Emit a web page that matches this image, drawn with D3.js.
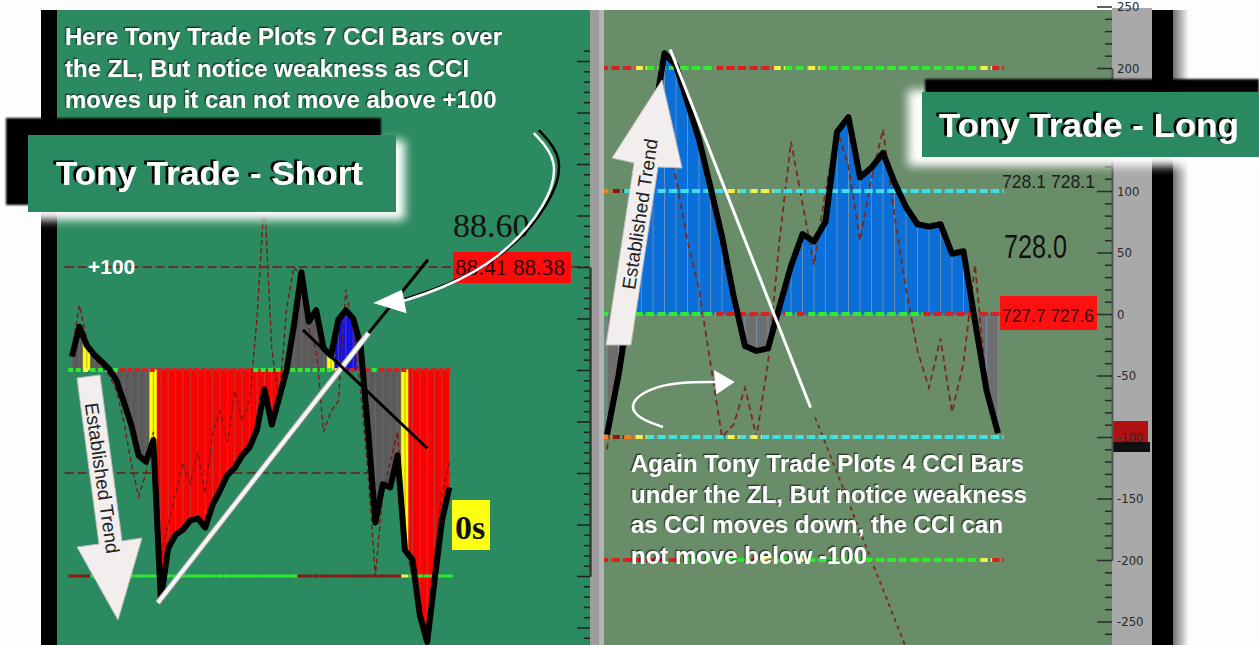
<!DOCTYPE html>
<html><head><meta charset="utf-8">
<script src="https://cdn.jsdelivr.net/npm/d3@7"></script>
<style>html,body{margin:0;padding:0;background:#fff;overflow:hidden}</style>
</head><body><svg id="c" width="1259" height="645" font-family="Liberation Sans, Arial, sans-serif"></svg>
<script>
// ---------------- DATA ----------------
// Left chart (Tony Trade - Short): CCI histogram values per bar
const leftCCI = [13,42,24,15,8,1,-10,-31,-53,-83,-89,-68,-223,-173,-160,-155,-146,-144,-153,-131,-117,-102,-95,-83,-75,-58,-19,-53,-27,0,44,95,47,58,21,14,49,58,50,24,-58,-148,-111,-114,-83,-175,-184,-238,-264,-204,-146,-114];
const leftTurbo = [20,63,30,10,5,-5,-20,-50,-90,-123,-100,-60,-180,-150,-120,-90,-110,-80,-120,-60,-40,-70,-20,-50,-30,50,170,20,-30,60,100,90,40,20,-60,-40,-30,78,40,-20,-100,-200,-120,-90,-60,-170,-200,-240,-250,-180,-120,-90];
const leftBarColors = [["gray",2],["yellow",1],["gray",8],["yellow",1],["red",17],["gray",6],["yellow",1],["blue",3],["gray",6],["yellow",1],["red",6]];
const leftZLColors = [["g",2],["y",1],["g",4],["r",18],["g",11],["y",1],["r",4],["g",1],["r",10]];
const leftM200Colors = [["d",3],["g",28],["d",14],["y",1],["g",6]];
const leftTicksMajor = [300,250,200,150,100,50,0,-50,-100,-150,-200,-250];

// Right chart (Tony Trade - Long)
const rightCCI = [-98,-50,10,87,156,212,202,172,142,103,63,15,-26,-30,-28,6,39,65,59,75,148,160,111,119,131,107,87,73,71,73,49,51,-6,-62,-97];
const rightTurbo = [-110,-40,40,110,170,150,110,60,20,-40,-100,-90,-60,-100,-40,60,140,90,40,100,150,120,60,110,150,80,20,-30,-60,-20,-80,-40,40,-60,-100];
const rightBarColors = [["gray",2],["blue",10],["gray",3],["blue",17],["gray",3]];
const rightP200Colors = [["r",3],["y",1],["g",6],["r",5],["y",1],["g",2],["y",1],["g",14],["y",1],["r",1]];
const rightP100Colors = [["o",1],["d",1],["c",2],["c",7],["y",1],["c",1],["y",2],["c",20]];
const rightZLColors = [["g",10],["r",6],["g",1],["r",1],["g",10],["r",7]];
const rightM100Colors = [["o",1],["d",1],["o",1],["y",1],["c",7],["y",1],["c",1],["y",1],["c",21]];
const rightM200Colors = [["r",7],["g",6],["r",1],["y",1],["g",2],["y",1],["g",15],["y",1],["r",1]];
const rightTickValues = [250,200,150,100,50,0,-50,-100,-150,-200,-250];
const rightTickLabels = ["250","200","","100","50","0","-50","-100","-150","-200","-250"]; // 150 is hidden behind the title box

// Annotations in data units [barIndex, cciValue]
const leftTrendWhite = [[11.6,-226],[40.1,36]];
const leftTrendBlack = [[40.1,36],[48.1,107]];
const leftDownLine = [[31.2,39],[48,-76]];
const leftCurve = [[62.4,230],[65.9,204],[64.3,160],[57.8,107],[49.7,78],[44.3,66]];
const leftCurveHead = [[40.7,65],[44.6,78],[45.2,55]];
const rightTrendWhite = [[5.5,215],[17.7,-76]];
const rightCurve = [[4.87,-91.9],[2.43,-83.7],[2.0,-71.5],[3.74,-60.2],[6.35,-55.3],[9.48,-55.3]];
const rightCurveHead = [[11.1,-55.3],[9.3,-45.5],[9.5,-65.5]];
const rightLongDash = [[18.1,-84],[25.9,-269]];

// ---------------- HELPERS ----------------
const runs = r => r.flatMap(([c,n]) => Array(n).fill(c));
const lvlCol = {g:"#30ec30", r:"#dd1e1e", y:"#f2f24a", c:"#3fe0e6", o:"#ff7a12", d:"#8c1616"};

const svg = d3.select("#c");
const defs = svg.append("defs");
[["b1",1.2],["b3",3],["b5",5]].forEach(([id,s])=>{
  defs.append("filter").attr("id",id).attr("x","-20%").attr("y","-40%").attr("width","140%").attr("height","180%")
    .append("feGaussianBlur").attr("stdDeviation",s);
});
const sh1 = defs.append("filter").attr("id","shTitle").attr("x","-10%").attr("y","-30%").attr("width","120%").attr("height","160%");
sh1.append("feDropShadow").attr("dx",-3).attr("dy",-1.5).attr("stdDeviation",0.4).attr("flood-color","#000").attr("flood-opacity",1);
const sh2 = defs.append("filter").attr("id","shNote").attr("x","-10%").attr("y","-30%").attr("width","120%").attr("height","160%");
sh2.append("feDropShadow").attr("dx",-1.3).attr("dy",-1.3).attr("stdDeviation",0.4).attr("flood-color","#111").attr("flood-opacity",0.7);
const gr = defs.append("linearGradient").attr("id","shade").attr("x1",0).attr("x2",1);
gr.append("stop").attr("offset","0").attr("stop-color","#6f6f6f");
gr.append("stop").attr("offset","1").attr("stop-color","#ffffff");

defs.append("clipPath").attr("id","clipL").append("rect").attr("x",57).attr("y",10).attr("width",533).attr("height",635);
defs.append("clipPath").attr("id","clipR").append("rect").attr("x",604).attr("y",10).attr("width",508).attr("height",635);
defs.append("clipPath").attr("id","clipAx").append("rect").attr("x",1080).attr("y",8).attr("width",80).attr("height",637);

// ---------------- FRAMES ----------------
svg.append("rect").attr("width",1259).attr("height",645).attr("fill","#fdfdfd");
svg.append("rect").attr("x",41).attr("y",10).attr("width",17).attr("height",635).attr("fill","#000");
svg.append("rect").attr("x",57).attr("y",10).attr("width",533).attr("height",635).attr("fill","#2c8a60");
svg.append("rect").attr("x",590).attr("y",10).attr("width",9).attr("height",635).attr("fill","#9d9d9d");
svg.append("rect").attr("x",599).attr("y",10).attr("width",5).attr("height",635).attr("fill","#b4b4b4");
svg.append("rect").attr("x",604).attr("y",10).attr("width",508).attr("height",635).attr("fill","#698c69");
svg.append("rect").attr("x",1112).attr("y",8).attr("width",40).attr("height",637).attr("fill","#a9a9a9");
svg.append("rect").attr("x",1173).attr("y",10).attr("width",16).attr("height",635).attr("fill","url(#shade)");
svg.append("rect").attr("x",1152).attr("y",10).attr("width",21).attr("height",635).attr("fill","#000");

// ---------------- SCALES ----------------
const xL = d3.scaleLinear().domain([0,51]).range([72,449.4]);
const yL = d3.scaleLinear().domain([-200,100]).range([576,267]);
const xR = d3.scaleLinear().domain([0,34]).range([607,998]);
const yR = d3.scaleLinear().domain([-200,200]).range([560,68]);

function histogram(g, data, colors, x, y, palette, sep){
  const n = data.length;
  const area = d3.area().x(d=>x(d[0])).y0(y(0)).y1(d=>y(d[1]));
  data.forEach((v,i)=>{
    const pts = [];
    pts.push(i>0 ? [i-0.5,(data[i-1]+v)/2] : [i,v]);
    pts.push([i,v]);
    pts.push(i<n-1 ? [i+0.5,(v+data[i+1])/2] : [i,v]);
    g.append("path").attr("d",area(pts)).attr("fill",palette[colors[i]]).attr("stroke",palette[colors[i]]).attr("stroke-width",0.6);
  });
  g.selectAll(null).data(data).enter().append("line")
    .attr("x1",(d,i)=>x(i)).attr("x2",(d,i)=>x(i)).attr("y1",y(0)).attr("y2",d=>y(d))
    .attr("stroke",sep).attr("stroke-width",1);
}
function levelLine(g, runsArr, level, x, y, dash, w){
  const cols = runs(runsArr);
  cols.forEach((c,i)=>{
    g.append("line").attr("x1",x(i-0.5)).attr("x2",x(i+0.5)).attr("y1",y(level)).attr("y2",y(level))
      .attr("stroke",lvlCol[c]).attr("stroke-width",w).attr("stroke-dasharray",dash);
  });
}

// ---------------- LEFT PANEL ----------------
const gL = svg.append("g").attr("clip-path","url(#clipL)");
[100,-100].forEach(l=>{
  gL.append("line").attr("x1",xL(-1)).attr("x2", l===100? 588 : xL(51.5)).attr("y1",yL(l)).attr("y2",yL(l))
    .attr("stroke","#6a1a16").attr("stroke-width",1.6).attr("stroke-dasharray","9,4");
});
histogram(gL, leftCCI, runs(leftBarColors), xL, yL, {gray:"#5b5b5b",red:"#ff0000",yellow:"#ffff00",blue:"#1212e8"}, "rgba(130,110,110,0.55)");
gL.append("path").datum(leftTurbo).attr("fill","none").attr("stroke","#7c1a14").attr("stroke-width",1.4)
  .attr("stroke-dasharray","5,3").attr("d",d3.line().x((d,i)=>xL(i)).y(d=>yL(d)));
levelLine(gL, leftZLColors, 0, xL, yL, "5,3", 4);
levelLine(gL, leftM200Colors, -200, xL, yL, "7,2", 3);
gL.append("path").datum(leftCCI).attr("fill","none").attr("stroke","#000").attr("stroke-width",6)
  .attr("stroke-linejoin","round").attr("d",d3.line().x((d,i)=>xL(i)).y(d=>yL(d)));

// left axis
const gAxL = svg.append("g").attr("transform","translate(590,0)");
gAxL.call(d3.axisRight(yL).tickValues(d3.range(-270,320,10).filter(v=>v%50!==0)).tickSizeInner(-6).tickSizeOuter(0).tickFormat(""));
gAxL.append("g").call(d3.axisRight(yL).tickValues(leftTicksMajor).tickSizeInner(-13).tickSizeOuter(0).tickFormat(""));
gAxL.selectAll("path.domain").attr("stroke","#3a3a3a").attr("stroke-width",2);
gAxL.selectAll(".tick line").attr("stroke","#1e1e1e").attr("stroke-width",1.5);

// ---------------- RIGHT PANEL ----------------
const gR = svg.append("g").attr("clip-path","url(#clipR)");
histogram(gR, rightCCI, runs(rightBarColors), xR, yR, {gray:"#6e6e6e",blue:"#0a6fd8"}, "rgba(120,150,180,0.8)");
gR.append("path").datum(rightTurbo).attr("fill","none").attr("stroke","#7c2a1c").attr("stroke-width",1.8)
  .attr("stroke-dasharray","6,4").attr("d",d3.line().x((d,i)=>xR(i)).y(d=>yR(d)));
gR.append("path").datum(rightLongDash).attr("fill","none").attr("stroke","#7c2a1c").attr("stroke-width",1.8)
  .attr("stroke-dasharray","4,4").attr("d",d3.line().x(d=>xR(d[0])).y(d=>yR(d[1])));
levelLine(gR, rightP200Colors, 200, xR, yR, "7,3", 4);
levelLine(gR, rightP100Colors, 100, xR, yR, "7,3", 4);
levelLine(gR, rightZLColors, 0, xR, yR, "7,3", 4);
levelLine(gR, rightM100Colors, -100, xR, yR, "7,3", 4);
levelLine(gR, rightM200Colors, -200, xR, yR, "7,3", 4);
gR.append("path").datum(rightCCI).attr("fill","none").attr("stroke","#000").attr("stroke-width",6)
  .attr("stroke-linejoin","round").attr("d",d3.line().x((d,i)=>xR(i)).y(d=>yR(d)));

// right axis marker boxes (behind the axis)
svg.append("rect").attr("x",1112).attr("y",yR(-100)-16).attr("width",36).attr("height",22).attr("fill","#b01212");
svg.append("rect").attr("x",1112).attr("y",yR(-100)+5).attr("width",38).attr("height",10).attr("fill","#111");
// right axis
const gAxR = svg.append("g").attr("transform","translate(1112,0)").attr("clip-path","url(#clipAxR)");
gAxR.call(d3.axisRight(yR).tickValues(d3.range(-270,260,10).filter(v=>v%50!==0)).tickSizeInner(-7).tickSizeOuter(0).tickFormat(""));
gAxR.append("g").call(d3.axisRight(yR).tickValues(rightTickValues).tickSizeInner(-15).tickSizeOuter(0).tickPadding(5)
  .tickFormat((d,i)=>rightTickLabels[i]));
gAxR.selectAll("path.domain").attr("stroke","#555").attr("stroke-width",1.5);
gAxR.selectAll(".tick line").attr("stroke","#2a2a2a").attr("stroke-width",1.5);
gAxR.selectAll(".tick text").attr("fill","#2a2a2a").attr("font-size",13).attr("font-family","DejaVu Sans Condensed, DejaVu Sans, sans-serif");

// ---------------- VALUE LABELS ----------------
const serif = "Liberation Serif, Times New Roman, serif";
svg.append("text").attr("x",453).attr("y",237).attr("font-family",serif).attr("font-size",34).attr("fill","#121212").text("88.60");
svg.append("rect").attr("x",453).attr("y",252).attr("width",118).attr("height",31).attr("fill","#ff0a0a");
svg.append("text").attr("x",455).attr("y",275).attr("font-family",serif).attr("font-size",23).attr("fill","#2a0505")
  .attr("textLength",110).attr("lengthAdjust","spacingAndGlyphs").text("88.41 88.38");
svg.append("rect").attr("x",452).attr("y",500).attr("width",38).attr("height",50).attr("fill","#ffff10");
svg.append("text").attr("x",455).attr("y",539).attr("font-family",serif).attr("font-weight","bold").attr("font-size",34).attr("fill","#111").text("0s");

const narrow = "Liberation Sans Narrow, Liberation Sans, Arial, sans-serif";
svg.append("text").attr("x",1002).attr("y",188).attr("font-family",narrow).attr("font-size",19).attr("fill","#1c1c1c")
  .attr("textLength",93).attr("lengthAdjust","spacingAndGlyphs").text("728.1 728.1");
svg.append("text").attr("x",1004).attr("y",258).attr("font-family",narrow).attr("font-size",34).attr("fill","#111")
  .attr("textLength",63).attr("lengthAdjust","spacingAndGlyphs").text("728.0");
svg.append("rect").attr("x",1000).attr("y",296).attr("width",97).attr("height",34).attr("fill","#ff1010");
svg.append("text").attr("x",1002).attr("y",322).attr("font-family",narrow).attr("font-size",19).attr("fill","#3a0a0a")
  .attr("textLength",92).attr("lengthAdjust","spacingAndGlyphs").text("727.7 727.6");

// +100 label
svg.append("text").attr("x",88).attr("y",274).attr("font-size",21).attr("font-weight","bold").attr("fill","#fff").text("+100");

// ---------------- ANNOTATIONS ----------------
const lineL = d3.line().x(d=>xL(d[0])).y(d=>yL(d[1]));
const lineR = d3.line().x(d=>xR(d[0])).y(d=>yR(d[1]));
svg.append("path").attr("d",lineL(leftTrendWhite)).attr("stroke","#999").attr("stroke-width",6).attr("fill","none");
svg.append("path").attr("d",lineL(leftTrendWhite)).attr("stroke","#f6f6f6").attr("stroke-width",4).attr("fill","none");
svg.append("path").attr("d",lineL(leftTrendBlack)).attr("stroke","#000").attr("stroke-width",3).attr("fill","none");
svg.append("path").attr("d",lineL(leftDownLine)).attr("stroke","#000").attr("stroke-width",3).attr("fill","none");
const curveL = d3.line().x(d=>xL(d[0])).y(d=>yL(d[1])).curve(d3.curveBasis);
svg.append("path").attr("d",curveL(leftCurve)).attr("transform","translate(5,-3)").attr("stroke","#000").attr("stroke-width",2.5).attr("fill","none");
svg.append("path").attr("d",curveL(leftCurve)).attr("stroke","#fff").attr("stroke-width",2.5).attr("fill","none");
svg.append("path").attr("d",lineL(leftCurveHead)+"Z").attr("fill","#fff");

svg.append("path").attr("d",lineR(rightTrendWhite)).attr("stroke","#fff").attr("stroke-width",3).attr("fill","none");
const curveR = d3.line().x(d=>xR(d[0])).y(d=>yR(d[1])).curve(d3.curveBasis);
svg.append("path").attr("d",curveR(rightCurve)).attr("stroke","#fff").attr("stroke-width",2.5).attr("fill","none");
svg.append("path").attr("d",lineR(rightCurveHead)+"Z").attr("fill","#fff");

// Established Trend arrows
svg.append("path").attr("d","M77,378L100,375L122,541L142,538L118,620L77,547L99,544Z").attr("fill","#f3eeee").attr("stroke","#bbb").attr("stroke-width",1);
svg.append("text").attr("transform","translate(102,478) rotate(81.8)").attr("text-anchor","middle").attr("dominant-baseline","central")
  .attr("font-size",19).attr("fill","#222").text("Established Trend");
svg.append("path").attr("d","M606,345L631,345L658,167L682,168L662,80L612,158L634,163Z").attr("fill","#f3eeee").attr("stroke","#bbb").attr("stroke-width",1);
svg.append("text").attr("transform","translate(640,214) rotate(-81.3)").attr("text-anchor","middle").attr("dominant-baseline","central")
  .attr("font-size",19).attr("fill","#222").text("Established Trend");

// ---------------- TITLE BOXES ----------------
function titleBox(glow, black, box, tx, ty, label, size, len){
  svg.append("rect").attr("x",glow[0]).attr("y",glow[1]).attr("width",glow[2]).attr("height",glow[3]).attr("fill","#ffffff").attr("filter","url(#b5)");
  svg.append("rect").attr("x",black[0]).attr("y",black[1]).attr("width",black[2]).attr("height",black[3]).attr("fill","#000").attr("filter","url(#b1)");
  svg.append("rect").attr("x",box[0]).attr("y",box[1]).attr("width",box[2]).attr("height",box[3]).attr("fill","#2a8960");
  svg.append("text").attr("x",tx).attr("y",ty).attr("font-size",size).attr("font-weight","bold").attr("fill","#fff")
    .attr("filter","url(#shTitle)").attr("textLength",len).attr("lengthAdjust","spacingAndGlyphs").text(label);
}
titleBox([30,140,375,80],[6,118,375,87],[28,135,368,77],56,185,"Tony Trade - Short",33,307);
titleBox([908,90,351,76],[925,79,334,14],[922,92,337,65],939,137,"Tony Trade - Long",33,300);

// ---------------- NOTE TEXTS ----------------
function note(lines, x, y0, dy){
  lines.forEach((t,i)=>{
    svg.append("text").attr("x",x).attr("y",y0+i*dy).attr("font-size",24).attr("font-weight","bold").attr("fill","#fff")
      .attr("filter","url(#shNote)").text(t);
  });
}
note(["Here Tony Trade Plots 7 CCI Bars over","the ZL, But notice weakness as CCI","moves up it can not move above +100"],65,45,31.5);
note(["Again Tony Trade Plots 4 CCI Bars","under the ZL, But notice weakness","as CCI moves down, the CCI can","not move below -100"],631,472,30.5);
</script></body></html>
